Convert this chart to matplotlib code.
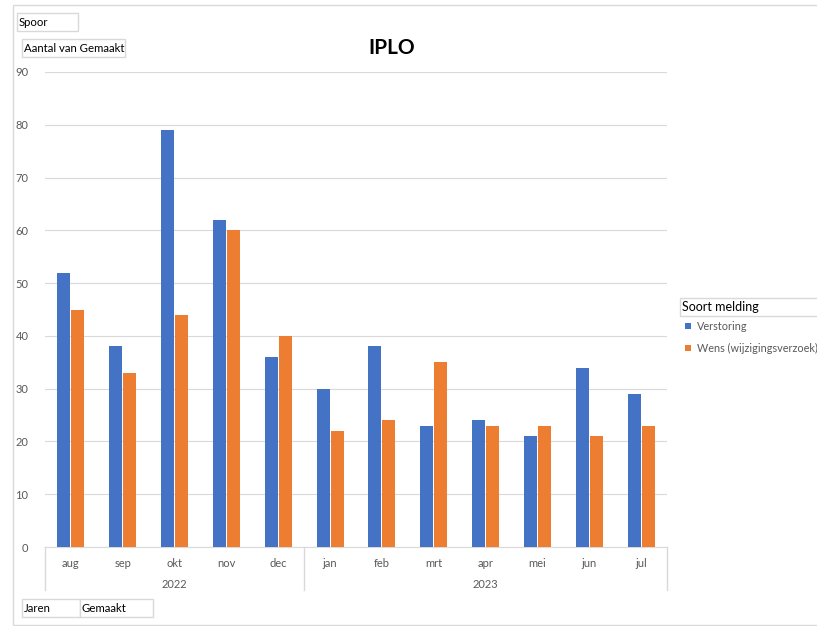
import matplotlib.pyplot as plt
from matplotlib.patches import Rectangle
import matplotlib.transforms as mtransforms
import numpy as np

plt.rcParams['font.family'] = ['Lato', 'DejaVu Sans']

# data
maanden = ['aug', 'sep', 'okt', 'nov', 'dec', 'jan', 'feb', 'mrt', 'apr', 'mei', 'jun', 'jul']
jaren = ['2022', '2023']
jaar_grootte = [5, 7]
verstoring = [52, 38, 79, 62, 36, 30, 38, 23, 24, 21, 34, 29]
wens = [45, 33, 44, 60, 40, 22, 24, 35, 23, 23, 21, 23]

BLUE = '#4472C4'
ORANGE = '#ED7D31'
GRID = '#D9D9D9'
TXT = '#595959'

W, H = 817, 626
fig = plt.figure(figsize=(W / 100, H / 100), dpi=100)

def fx(px):
    return px / W

def fy(py):
    return 1 - py / H

# outer chart border (right side runs off the picture)
fig.patches.append(Rectangle((fx(13), fy(625)), fx(840) - fx(13), fy(5) - fy(625),
                             transform=fig.transFigure, fill=False, edgecolor=GRID, lw=1))

ax = fig.add_axes([fx(45), fy(547), fx(667) - fx(45), fy(72) - fy(547)])
x = np.arange(len(maanden))
w = 0.25
ax.bar(x - 0.135, verstoring, width=w, color=BLUE, label='Verstoring', zorder=3)
ax.bar(x + 0.135, wens, width=w, color=ORANGE, label='Wens (wijzigingsverzoek)', zorder=3)

ax.set_xlim(-0.5, len(maanden) - 0.5)
ax.set_ylim(0, 90)
ax.set_yticks(range(0, 91, 10))
ax.grid(axis='y', color=GRID, lw=0.8, zorder=0)
for s in ['top', 'right', 'left']:
    ax.spines[s].set_visible(False)
ax.spines['bottom'].set_color(GRID)
ax.tick_params(axis='y', length=0, labelsize=8, labelcolor=TXT, pad=12)
ax.tick_params(axis='x', length=0, labelsize=8, labelcolor=TXT, pad=8)
ax.set_xticks(x)
ax.set_xticklabels(maanden)

# year grouping with separator lines
trans = mtransforms.blended_transform_factory(ax.transData, ax.transAxes)
depth = -(590 - 547) / 475
start = 0
grenzen = [-0.5]
for jaar, n in zip(jaren, jaar_grootte):
    midden = start + (n - 1) / 2
    ax.text(midden, -(585 - 547) / 475, jaar, transform=trans, ha='center', va='center',
            fontsize=8, color=TXT)
    start += n
    grenzen.append(start - 0.5)
for g in grenzen:
    ax.plot([g, g], [0, depth], transform=trans, color=GRID, lw=1, clip_on=False)

# title
fig.text(fx(392), fy(48), 'IPLO', ha='center', va='center', fontsize=15, fontweight='bold')

# field buttons
def veld(x0, y0, x1, y1, tekst, size=8.2):
    fig.patches.append(Rectangle((fx(x0), fy(y1)), fx(x1) - fx(x0), fy(y0) - fy(y1),
                                 transform=fig.transFigure, fill=True, facecolor='white',
                                 edgecolor=GRID, lw=1))
    fig.text(fx(x0 + 2), fy((y0 + y1) / 2), tekst, ha='left', va='center', fontsize=size)

veld(17, 13, 78, 31, 'Spoor')
veld(22, 39, 125, 57, 'Aantal van Gemaakt')
veld(22, 599, 80, 617, 'Jaren')
veld(80, 599, 153, 617, 'Gemaakt')
veld(680, 298, 840, 316, 'Soort melding', size=9)

# legend
for i, (lab, col) in enumerate([('Verstoring', BLUE), ('Wens (wijzigingsverzoek)', ORANGE)]):
    yy = 326 + i * 22
    fig.patches.append(Rectangle((fx(685), fy(yy + 3)), fx(691) - fx(685), fy(yy - 3) - fy(yy + 3),
                                 transform=fig.transFigure, facecolor=col, edgecolor='none'))
    fig.text(fx(697), fy(yy), lab, ha='left', va='center', fontsize=7.8, color=TXT)

fig.savefig('out.png', dpi=100)
